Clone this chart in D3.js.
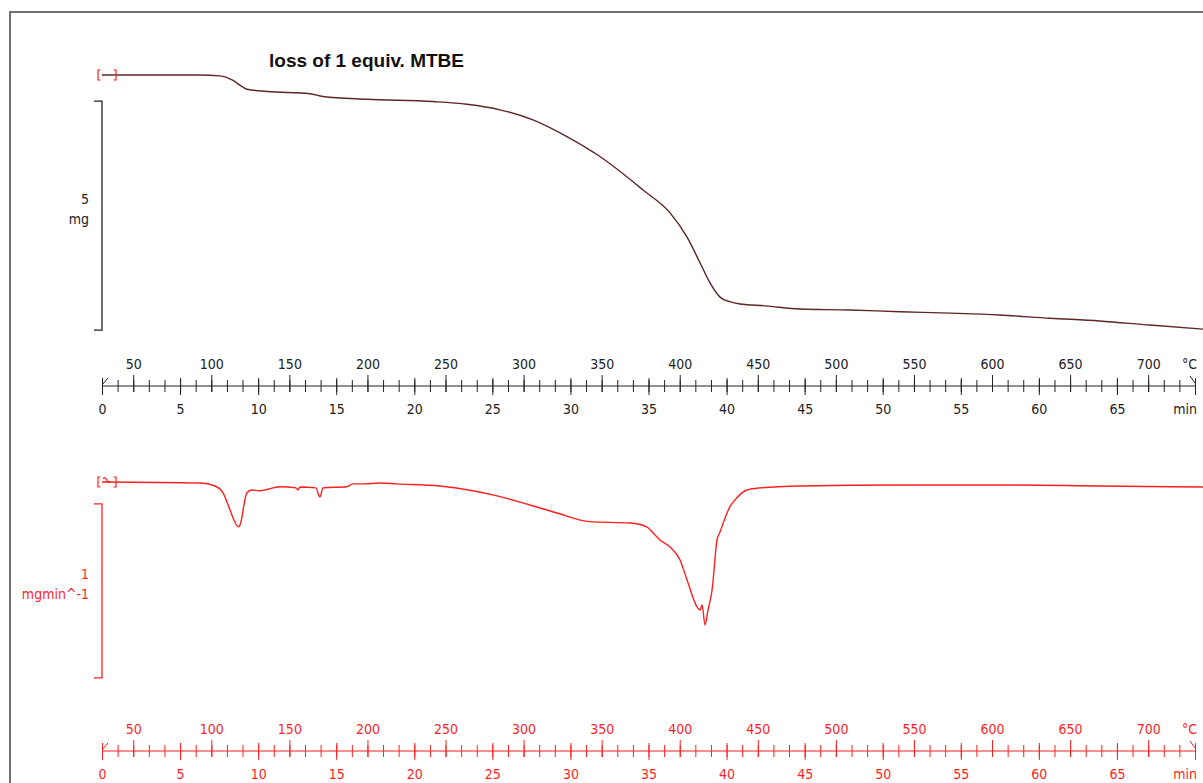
<!DOCTYPE html>
<html>
<head>
<meta charset="utf-8">
<script src="https://cdn.jsdelivr.net/npm/d3@7"></script>
<style>
  html, body { margin: 0; padding: 0; background: #fff; }
  svg { display: block; }
  .lbl { font-family: "DejaVu Sans", "Open Sans", sans-serif; font-stretch: condensed; font-size: 14px; }
</style>
</head>
<body>
<svg id="chart" width="1203" height="783"></svg>
<script>
// ---- TG curve: time (min) and mass change (mg) ----
const tgTime = [0, 6.28, 7.56, 8.36, 9.0, 9.29, 10.57, 13.32, 14.15, 16.97, 21.2, 23.37, 25.49, 27.6,
  29.8, 31.89, 34.65, 36.38, 37.47, 38.3, 38.94, 39.58, 40.2, 40.86, 42.5, 44.7, 47.9, 51.1,
  54.3, 57.5, 60.7, 63.9, 67.1, 70.6];
const tgMass = [0, 0, -0.02, -0.11, -0.26, -0.31, -0.36, -0.41, -0.47, -0.53, -0.58, -0.64, -0.76, -0.98,
  -1.35, -1.78, -2.51, -3.01, -3.54, -4.10, -4.54, -4.85, -4.95, -5.00, -5.04, -5.11, -5.13, -5.17,
  -5.20, -5.24, -5.31, -5.37, -5.46, -5.55];

// ---- DTG curve: time (min) and rate (mg/min) ----
const dtgTime = [0, 6.28, 7.24, 7.75, 8.2, 8.45, 8.73, 8.9, 9.09, 9.27, 9.59, 10.12, 11.4, 12.42, 12.55,
  12.68, 13.71, 13.87, 13.96, 14.15, 15.67, 16.08, 16.72, 17.8, 18.89, 21.65, 23.76, 25.3, 27.41,
  29.14, 31.25, 33.82, 34.91, 35.42, 35.74, 36.38, 37.02, 37.47, 38.11, 38.3, 38.43, 38.62, 38.81,
  39.07, 39.39, 39.58, 40.03, 40.22, 40.54, 41.31, 42.14, 44.7, 51.11, 57.51, 63.92, 70.6];
const dtgRate = [0, -0.006, -0.023, -0.063, -0.161, -0.218, -0.257, -0.23, -0.132, -0.063, -0.046, -0.05,
  -0.027, -0.034, -0.046, -0.029, -0.034, -0.075, -0.086, -0.034, -0.027, -0.011, -0.011, -0.006,
  -0.011, -0.023, -0.05, -0.08, -0.132, -0.178, -0.228, -0.236, -0.259, -0.305, -0.333, -0.374,
  -0.448, -0.563, -0.718, -0.736, -0.707, -0.822, -0.736, -0.621, -0.333, -0.287, -0.178, -0.142,
  -0.103, -0.046, -0.034, -0.023, -0.017, -0.017, -0.023, -0.029];

// ---- axis ticks ----
const timeTicks = d3.range(0, 71, 5);          // major time ticks, min
const minorTicks = d3.range(0, 71, 1);         // 1-min ticks
const tempTicks = d3.range(50, 701, 50);       // temperature ticks, °C
const heatingStart = 30, heatingRate = 10;     // °C, K/min

// scale bars
const tgBar = { top: -0.57, span: 5, label: "5", unit: "mg" };
const dtgBar = { top: -0.126, span: 1, label: "1", unit: "mgmin^-1" };

const TG_COLOR = "#5e2626";
const DTG_COLOR = "#ff1f1f";
const AXIS_COLOR = "#222";

const svg = d3.select("#chart");

// outer frame
svg.append("rect").attr("x", 10).attr("y", 12).attr("width", 1300).attr("height", 900)
  .attr("fill", "none").attr("stroke", "#707070").attr("stroke-width", 2);

const x = d3.scaleLinear().domain([0, 70]).range([102, 1195]);
const xT = d3.scaleLinear().domain([heatingStart, heatingStart + 70 * heatingRate]).range(x.range());
const yTG = d3.scaleLinear().domain([0, -5]).range([75, 304]);
const yDTG = d3.scaleLinear().domain([0, -1]).range([482, 656]);

// title
svg.append("text").attr("x", 269).attr("y", 67)
  .attr("font-family", "Liberation Sans, Arial, sans-serif").attr("font-weight", "bold")
  .attr("font-size", 19).attr("fill", "#111").text("loss of 1 equiv. MTBE");

// ---- curves ----
const tgLine = d3.line().x((d, i) => x(tgTime[i])).y(d => yTG(d)).curve(d3.curveMonotoneX);
svg.append("path").attr("d", tgLine(tgMass)).attr("fill", "none")
  .attr("stroke", TG_COLOR).attr("stroke-width", 1.4);

const dtgLine = d3.line().x((d, i) => x(dtgTime[i])).y(d => yDTG(d)).curve(d3.curveMonotoneX);
svg.append("path").attr("d", dtgLine(dtgRate)).attr("fill", "none")
  .attr("stroke", DTG_COLOR).attr("stroke-width", 1.4);

// start markers
function startMarker(y0, withTilde) {
  const g = svg.append("g").attr("fill", "none").attr("stroke", DTG_COLOR).attr("stroke-width", 1.2);
  const xl = x(0) - 4, xr = x(0) + 14;
  g.append("path").attr("d", `M${xl + 2.5},${y0 - 5}h-2.5v10h2.5`);
  g.append("path").attr("d", `M${xr - 2.5},${y0 - 5}h2.5v10h-2.5`);
  if (withTilde) {
    g.append("path").attr("d", `M${xl + 5},${y0 - 3} q2,-3 3.5,0.5 t3.5,1.5`);
  }
}
startMarker(yTG(0), false);
startMarker(yDTG(0), true);

// scale bars
function scaleBar(yScale, bar, color) {
  const y1 = yScale(bar.top), y2 = yScale(bar.top - bar.span);
  const xb = x(0);
  svg.append("path").attr("d", `M${xb - 8},${y1}H${xb}V${y2}H${xb - 8}`)
    .attr("fill", "none").attr("stroke", color).attr("stroke-width", 1.3);
  const mid = (y1 + y2) / 2;
  svg.append("text").attr("class", "lbl").attr("x", 89).attr("y", mid - 12)
    .attr("text-anchor", "end").attr("fill", color).text(bar.label);
  svg.append("text").attr("class", "lbl").attr("x", 89).attr("y", mid + 8)
    .attr("text-anchor", "end").attr("fill", color).text(bar.unit);
}
scaleBar(yTG, tgBar, AXIS_COLOR);
scaleBar(yDTG, dtgBar, DTG_COLOR);

// ---- dual time / temperature axis ----
function drawAxis(y0, color) {
  const g = svg.append("g").attr("transform", `translate(0,${y0})`);
  g.append("line").attr("x1", x(0)).attr("x2", x(70)).attr("stroke", color).attr("stroke-width", 1.2);

  const minor = g.append("g").call(d3.axisBottom(x).tickValues(minorTicks).tickSize(6).tickSizeOuter(0).tickFormat(""));
  minor.select(".domain").remove();
  minor.selectAll(".tick line").attr("y1", -6).attr("stroke", color);

  const major = g.append("g").call(d3.axisBottom(x).tickValues(timeTicks).tickSize(9).tickSizeOuter(0)
    .tickFormat(d => d === 70 ? "" : d));
  major.select(".domain").remove();
  major.selectAll(".tick line").attr("y1", -8).attr("stroke", color);
  major.selectAll(".tick text").attr("y", 28).attr("dy", 0).attr("fill", color).attr("class", "lbl");

  const temp = g.append("g").call(d3.axisTop(xT).tickValues(tempTicks).tickSize(11).tickSizeOuter(0));
  temp.select(".domain").remove();
  temp.selectAll(".tick line").attr("y1", 6).attr("stroke", color);
  temp.selectAll(".tick text").attr("y", -17).attr("dy", 0).attr("fill", color).attr("class", "lbl");

  [major, temp, minor].forEach(s => s.attr("font-size", null).attr("font-family", null));

  // start and end marks
  g.append("path").attr("d", `M${x(0)},-1L${x(0) + 6},-8`).attr("stroke", color).attr("fill", "none");
  g.append("path").attr("d", `M${x(70) - 5},-10L${x(70)},-3`).attr("stroke", color).attr("fill", "none");

  g.append("text").attr("class", "lbl").attr("x", x(70) + 2).attr("y", -17)
    .attr("text-anchor", "end").attr("fill", color).text("°C");
  g.append("text").attr("class", "lbl").attr("x", x(70) + 2).attr("y", 28)
    .attr("text-anchor", "end").attr("fill", color).text("min");
}
drawAxis(386, AXIS_COLOR);
drawAxis(751, DTG_COLOR);
</script>
</body>
</html>
